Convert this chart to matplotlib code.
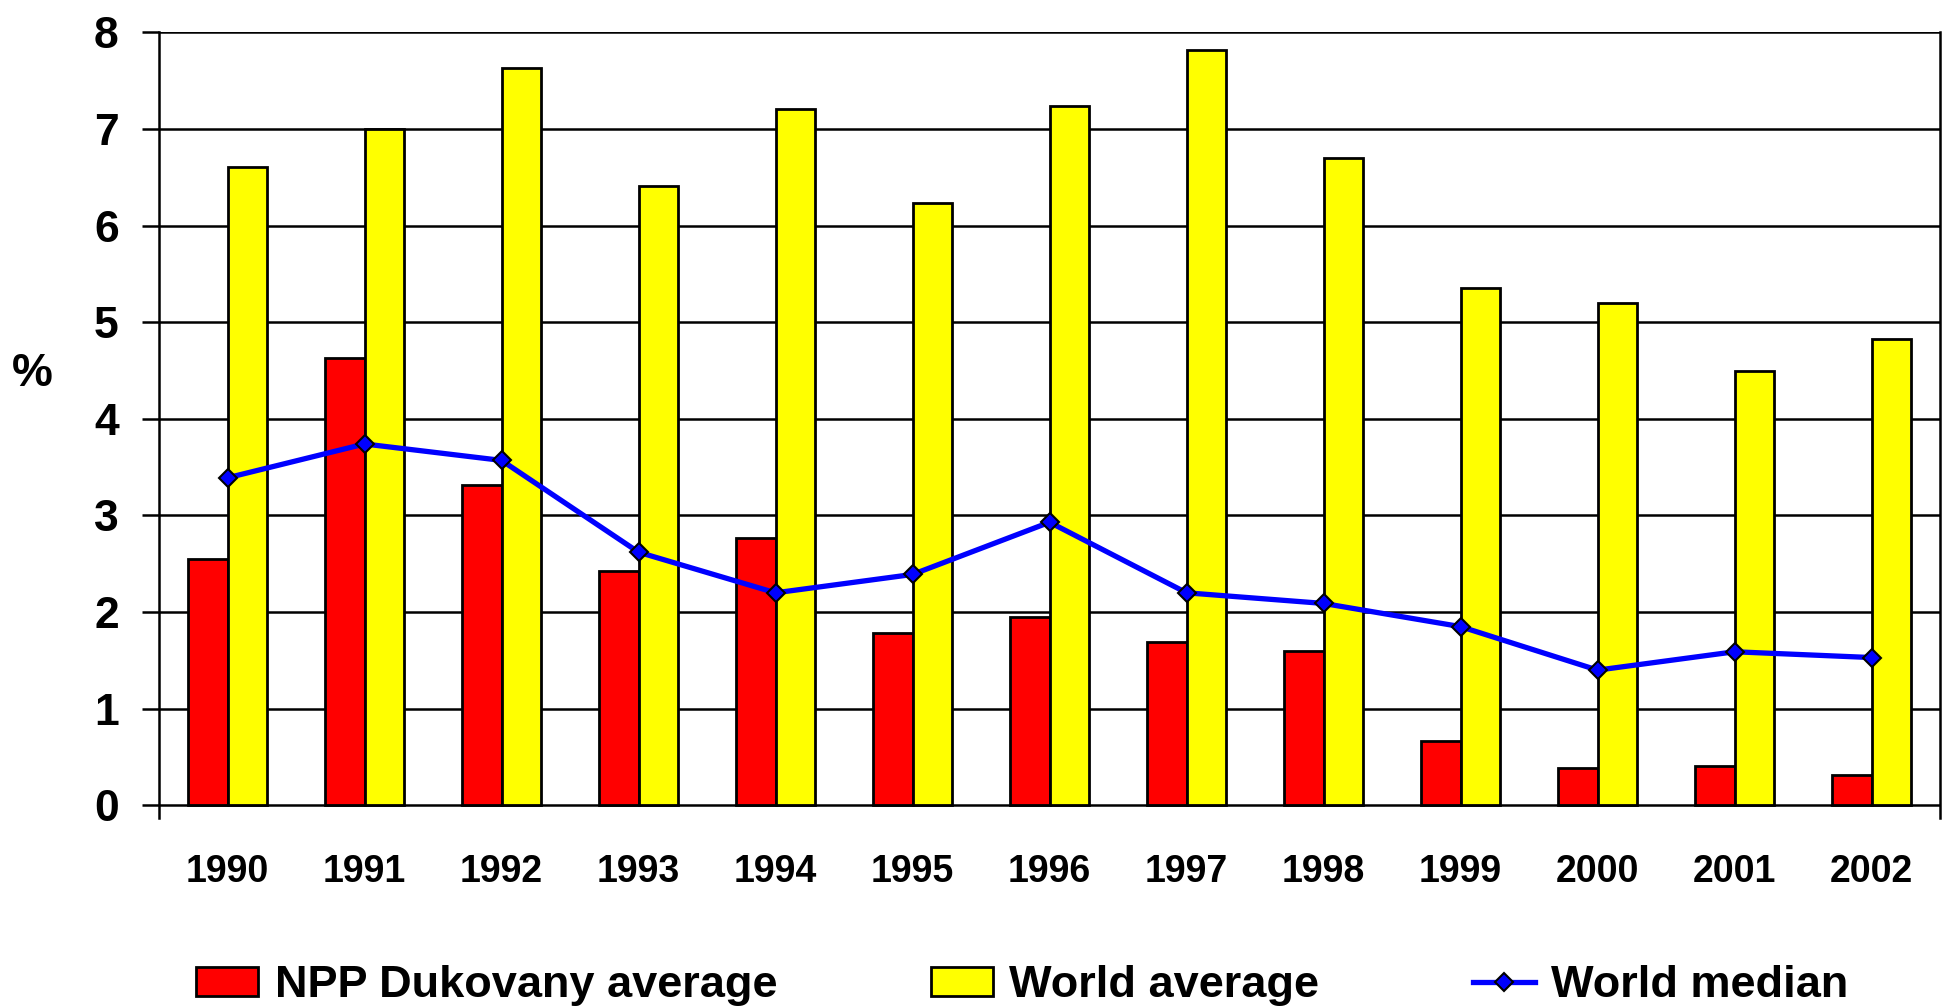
import numpy as np
import matplotlib
matplotlib.use("Agg")
import matplotlib.pyplot as plt
from matplotlib.lines import Line2D
from matplotlib.patches import Patch

plt.rcParams['font.family'] = ['Liberation Sans', 'DejaVu Sans']
plt.rcParams['font.weight'] = 'bold'

years = ["1990", "1991", "1992", "1993", "1994", "1995", "1996",
         "1997", "1998", "1999", "2000", "2001", "2002"]
dukovany_avg = [2.55, 4.63, 3.32, 2.43, 2.77, 1.78, 1.95, 1.69, 1.60, 0.67, 0.39, 0.41, 0.32]
world_avg = [6.61, 7.00, 7.63, 6.41, 7.21, 6.23, 7.24, 7.82, 6.70, 5.35, 5.20, 4.49, 4.83]
world_median = [3.39, 3.74, 3.57, 2.62, 2.20, 2.39, 2.93, 2.20, 2.09, 1.85, 1.40, 1.59, 1.53]
y_ticks = [0, 1, 2, 3, 4, 5, 6, 7, 8]

fig = plt.figure(figsize=(19.44, 10.08), dpi=100)
ax = fig.add_axes([0.0818, 0.1885, 0.998 - 0.0818, 0.968 - 0.1885])

x = np.arange(len(years))
w = 0.29
ax.bar(x - w / 2, dukovany_avg, width=w, color="#ff0000", edgecolor="black",
       linewidth=2, zorder=3, label="NPP Dukovany average")
ax.bar(x + w / 2, world_avg, width=w, color="#ffff00", edgecolor="black",
       linewidth=2, zorder=3, label="World average")
ax.plot(x, world_median, color="#0000ff", linewidth=3.8, marker="D", markersize=9,
        markerfacecolor="#0000ff", markeredgecolor="black", markeredgewidth=1.5,
        zorder=4, label="World median")

ax.set_xlim(-0.5, len(years) - 0.5)
ax.set_ylim(-0.13, 8)
ax.set_yticks(y_ticks)
ax.set_yticklabels([str(t) for t in y_ticks], fontsize=32, fontweight="bold")
ax.set_xticks(x)
ax.set_xticklabels(years, fontsize=27, fontweight="bold")
ax.tick_params(axis="x", length=0, pad=26)
ax.tick_params(axis="y", length=12, width=1.8, pad=17, direction="out")

ax.grid(axis="y", color="black", linewidth=1.8, zorder=0)
ax.set_axisbelow(True)
for side in ("top", "bottom"):
    ax.spines[side].set_visible(False)
for side in ("left", "right"):
    ax.spines[side].set_linewidth(1.8)

fig.text(32 / 1944, 1 - 374 / 1008, "%", fontsize=33, fontweight="bold",
         ha="center", va="center")

handles = [
    Patch(facecolor="#ff0000", edgecolor="black", linewidth=2, label="NPP Dukovany average"),
    Patch(facecolor="#ffff00", edgecolor="black", linewidth=2, label="World average"),
    Line2D([], [], color="#0000ff", linewidth=3.8, marker="D", markersize=9,
           markerfacecolor="#0000ff", markeredgecolor="black", markeredgewidth=1.5,
           label="World median"),
]
fig.legend(handles=handles, loc="center", bbox_to_anchor=(0.526, 0.022), ncol=3,
           frameon=False, prop={"size": 32.5, "weight": "bold"},
           handlelength=1.37, handleheight=0.63, handletextpad=0.37,
           columnspacing=3.4)

fig.savefig("out.png", dpi=100)
